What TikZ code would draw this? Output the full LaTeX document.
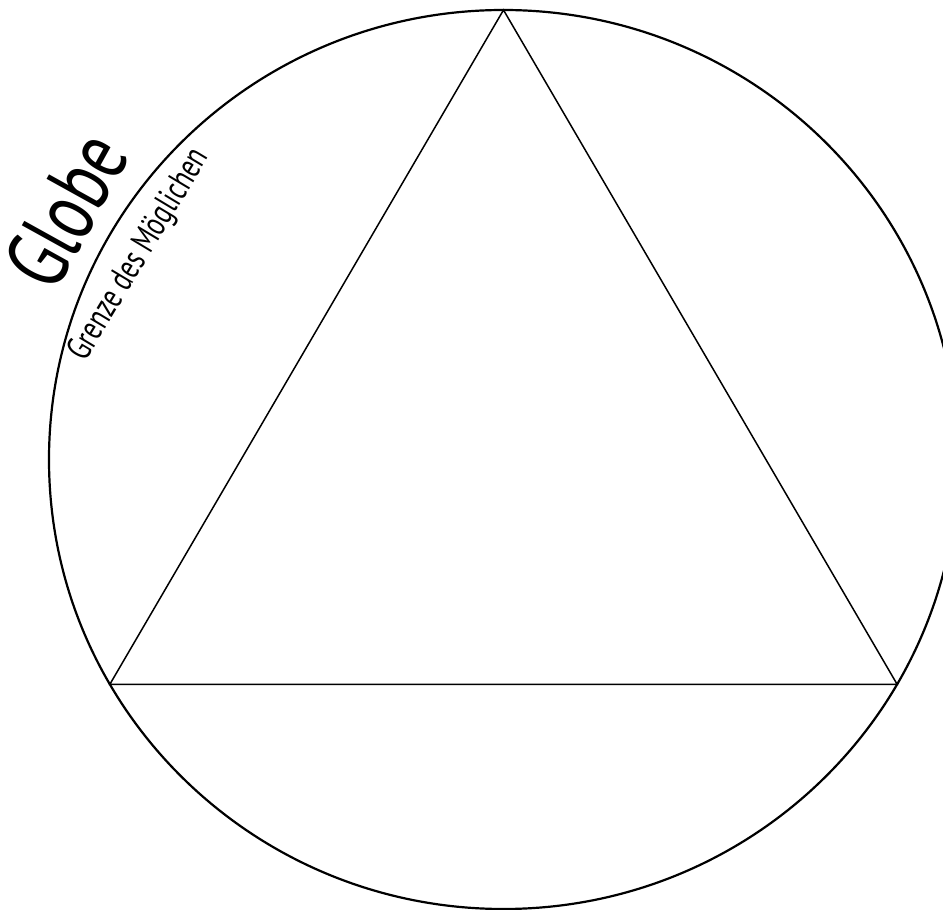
\documentclass[tikz,border=0pt]{standalone}
\usepackage{fontspec}
\setmainfont{PT Sans}
\newfontfamily\condfont[FakeStretch=0.73]{PT Sans}

\begin{document}
\begin{tikzpicture}[
    x=1pt, y=1pt,
    rim/.style={draw, line width=2.2pt},
    edge/.style={draw, line width=1.5pt},
    title/.style={font=\condfont\fontsize{88}{88}\selectfont, rotate=61, anchor=base west, inner sep=0pt},
    subtitle/.style={font=\condfont\fontsize{35}{35}\selectfont, rotate=59, anchor=base west, inner sep=0pt},
]

% Frame of the picture
\useasboundingbox (-503.5,-450.5) rectangle (439.5,459.5);
\clip (-503.5,-450.5) rectangle (439.5,459.5);

% Globe
\coordinate (centre) at (0,0);
\draw[rim] (centre) ellipse [x radius=454.5pt, y radius=449.5pt];

% Triangle inscribed in the globe
\coordinate (apexT) at (90:454.5pt and 449.5pt);
\coordinate (baseL) at (210:454.5pt and 449.5pt);
\coordinate (baseR) at (330:454.5pt and 449.5pt);
\draw[edge] (apexT) -- (baseL) -- (baseR) -- cycle;

% Labels along the rim
\node[title] (globe) at (-449.5,164.5) {Globe};
\node[subtitle] (limit) at (-418.5,96.5) {Grenze des Möglichen};

\end{tikzpicture}
\end{document}
